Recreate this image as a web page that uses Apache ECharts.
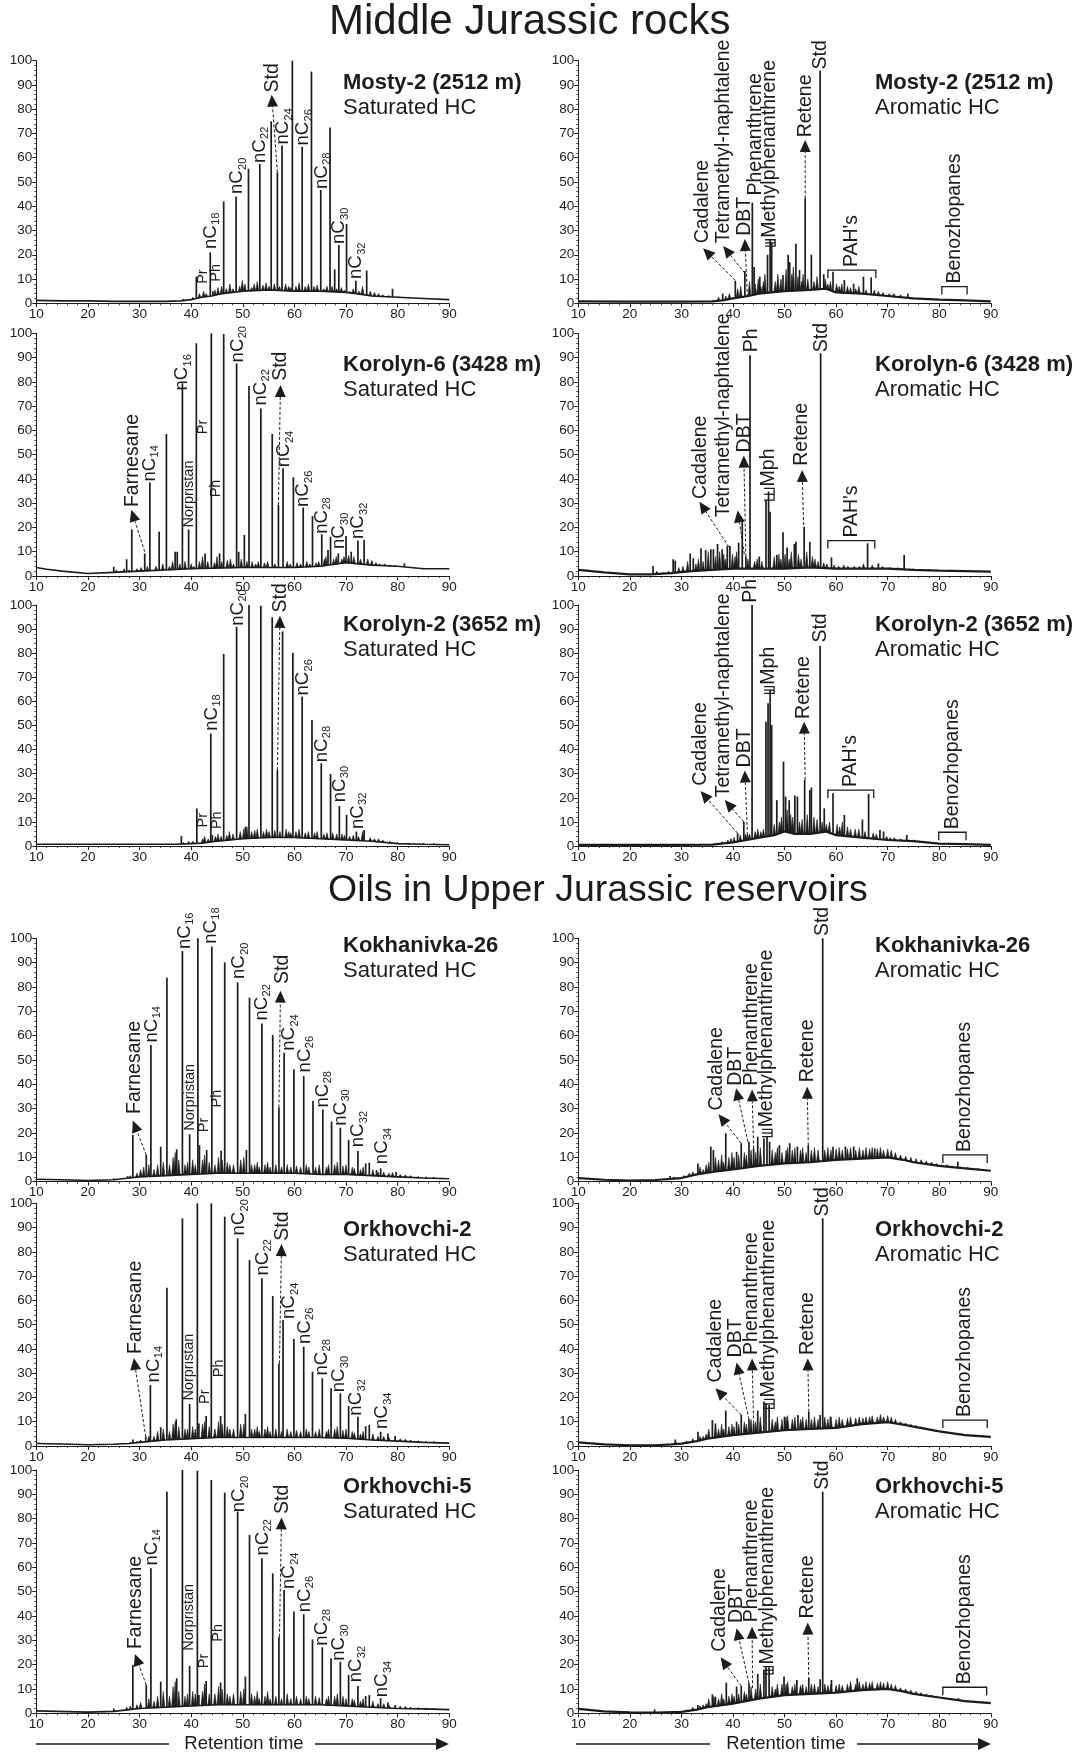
<!DOCTYPE html>
<html><head><meta charset="utf-8">
<script src="https://cdn.jsdelivr.net/npm/echarts@6/dist/echarts.min.js"></script>
<style>html,body{margin:0;padding:0;background:#fff}#c{width:1084px;height:1753px}</style>
</head><body><div id="c"></div>
<script>
// ---------------- DATA (retention time [min], relative abundance [%]) ----------------
const xTicks = [10, 20, 30, 40, 50, 60, 70, 80, 90];
const yTicks = [0, 10, 20, 30, 40, 50, 60, 70, 80, 90, 100];

// Mosty-2 (2512 m) saturated
const m2sBase = [[10,1.2],[15,1],[20,1],[25,0.8],[30,0.8],[35,0.8],[38,1],[40,1.5],[42,2.5],[44,3],[46,4],[50,5],[55,5.5],[60,5],[65,5],[70,4.5],[72,4],[75,3],[80,2.5],[85,2],[90,1.5]];
const m2sPeaks = [[38.5,1.8],[41.0,11],[43.7,21],[44.2,5],[46.3,42],[48.7,44],[51.1,55.5],[53.3,57.4],[55.5,75],[56.7,54],[57.6,65],[59.6,100],[61.5,64.5],[63.3,95.5],[65.1,46.7],[66.9,72.5],[67.8,14],[68.6,24],[70.1,32.7],[71.9,9.3],[74.0,13.5],[79.0,6]];
const m2sGrass = [[40.3,2.5],[41.6,4],[42.4,5],[42.9,4],[44.6,5.5],[45.2,6.5],[45.9,7],[46.8,6],[47.5,8],[48.1,6],[49.4,7],[49.9,9.5],[50.4,8],[51.7,6.5],[52.2,8],[52.8,9],[53.9,7.5],[54.5,8.5],[55.1,7],[56.1,8],[57.1,7],[58.3,8],[58.9,7],[59.3,6.5],[60.3,7],[60.9,8.5],[62.1,7],[62.7,8],[63.8,7],[64.4,7.5],[65.7,6],[66.3,7],[67.3,7],[68.2,6],[69.1,6.5],[69.7,5.5],[70.7,5],[71.4,6],[72.5,5],[73.2,7],[74.7,5],[75.5,4.5],[76.3,4],[77.1,3.5],[78.3,3.2],[80.2,2.5]];
const m2sNotes = [['S','Pr',42.2,7.6],['S','Ph',44.9,8.5],['L','nC_18',43.8,22],['L','nC_20',48.9,44.6],['L','nC_22',53.3,57.4],['A','Std',56.7,54,55.6,86,55.7,86.5],['L','nC_24',57.8,65],['L','nC_26',61.7,64.6],['L','nC_28',65.3,46.7],['L','nC_30',68.7,24],['L','nC_32',72,9.6]];

// Mosty-2 (2512 m) aromatic
const m2aBase = [[10,0.8],[20,0.7],[30,0.7],[36,0.8],[38,1.2],[40,2],[43,3],[45,4],[50,5],[55,5.5],[58,6],[60,4.5],[65,4],[70,3],[75,2],[80,1.5],[85,1.2],[90,0.8]];
const m2aPeaks = [[38,4],[40.45,9.3],[42.3,13.3],[43.75,41.5],[44.1,15],[45.2,11],[46.7,20],[47.2,26],[47.5,25],[49.7,11.7],[50.7,20],[51,17],[52.2,24.5],[52.9,13.7],[54.0,43.3],[55.2,20],[56.9,96],[57.6,12],[59.4,13],[61.6,9.6],[63.4,8],[65.3,11],[66.8,10.7],[73.9,4]];
const m2aGrass = [[37.2,2.5],[38.6,3],[39.3,4],[40.9,6],[41.5,7],[43.2,9],[44.3,8],[44.9,10],[45.4,7],[45.9,9],[46.2,12],[48.2,9],[48.7,12],[49.3,10],[50.3,14],[51.4,12],[51.7,15],[52.6,11],[53.3,9],[53.6,12],[54.5,10],[55.7,9],[56.3,11],[57.9,10],[58.4,8],[58.9,9],[60.1,8],[60.6,7],[61.1,8],[62.2,7],[62.8,6.5],[63.8,6],[64.4,7],[65.8,5.5],[67.4,5.5],[68.2,5],[69.1,4.5],[70.3,4],[71.2,4],[72.5,3.5]];
const m2aNotes = [['A','Cadalene',40.4,9.5,34.2,22.7,34.2,24.3],['A','Tetramethyl-naphtalene',42.3,12.4,38.1,23.6,38.2,24.3],['A','DBT',42.8,2.7,42.3,26.5,42.3,27.4],['L','Phenanthrene',44.3,44],['E','Methylphenanthrene',47.2,23.6,26.2],['A','Retene',54,43.3,54,67.3,54,68],['L','Std',56.9,96],['B',"PAH's",58.4,67.7,13.7],['B','Benozhopanes',80.5,85.4,6.9]];

// Korolyn-6 (3428 m) saturated
const k6sBase = [[10,3.5],[12,2.8],[15,2],[20,1],[25,1.5],[30,2],[35,2.5],[40,3],[50,3.5],[60,3.5],[65,4],[70,5.5],[75,4.5],[80,4],[85,3],[90,3]];
const k6sPeaks = [[25,3.8],[27.5,6.9],[28.5,19.2],[31,9.3],[32,38.5],[33.8,18.3],[35.2,58.5],[36.9,10],[37.3,10],[38.3,79.4],[39.5,19.2],[41.0,95.9],[42.7,9.3],[43.9,100],[45.5,9.3],[46.3,99.7],[48.8,87.6],[49.2,10],[50.3,16.9],[51.2,78.3],[53.5,69],[55.7,58.5],[56.9,29.3],[57.8,44.4],[59.8,40.7],[61.7,28.2],[63.5,24.7],[65.3,17.2],[66.5,10.7],[67,16.2],[68.5,9.3],[70,16.5],[71,10],[72.3,14.6],[73.5,14.8],[81.3,5.2]];
const k6sGrass = [[25.5,2.5],[26.3,2],[27,3],[28,2.5],[29.5,3],[30.3,3.5],[31.5,4],[33.2,4],[34.5,5],[35.8,4],[36.4,6],[37.8,5],[38.8,6],[40,5],[40.5,4],[41.6,6],[42.2,8],[43.2,6],[44.5,5.5],[45,8],[45.9,6],[47,6.5],[47.6,7],[48.2,5],[49.7,7],[50.8,6],[51.8,6],[52.5,5],[53,6],[54.2,5.5],[54.8,6],[56.2,5],[58.6,6],[59.2,5],[60.5,5.5],[61.2,5],[62.4,6],[63,5],[64.2,5.5],[64.7,6],[65.8,7],[66.1,8],[67.6,7],[68.1,8],[69.2,7],[69.6,8],[70.5,8.5],[71.5,8],[72.8,7],[74.2,7],[75,6.5],[75.8,5.5],[76.5,5],[77.5,5],[78.5,4.5],[79.5,4],[83,3.5],[85,3.2]];
const k6sNotes = [['A','Farnesane',31,10,28.4,27.3,28.7,28],['L','nC_14',32,38.5],['L','nC_16',38.3,76],['S','Norpristan',39.5,19.6],['S','Pr',42.3,58],['S','Ph',44.9,32],['L','nC_20',49,87.6],['L','nC_22',53.5,69.8],['A','Std',56.9,29.3,57.3,78.7,57.3,80],['L','nC_24',58,44.4],['L','nC_26',61.7,28],['L','nC_28',65.3,17],['L','nC_30',68.7,10.7],['L','nC_32',72.3,14.8]];

// Korolyn-6 (3428 m) aromatic
const k6aBase = [[10,2.5],[15,1.5],[20,0.7],[24,0.7],[28,1.2],[32,2],[36,2.5],[40,3],[45,3],[50,3],[55,3.5],[60,3],[65,3],[70,3],[75,2.5],[80,2.2],[85,2],[90,1.8]];
const k6aPeaks = [[24.5,4.1],[28.4,6.9],[28.8,6.3],[31.7,9.3],[32.3,7.3],[33.8,11.4],[34.7,10.7],[35.7,11],[36.2,11],[37,13.2],[37.9,11],[38.9,12.4],[39.4,12.4],[41.1,13.7],[41.8,23],[42.5,8],[43.3,91],[45.1,8],[46.4,31.3],[46.9,34.8],[47.2,26.5],[48.5,8.7],[49.7,18],[50.5,11.7],[51.9,13.2],[52.2,14.1],[53.8,20.3],[54.9,14.1],[57,91.8],[59.1,7.7],[66.1,13.5],[68.2,5.2],[73.2,8.7]];
const k6aGrass = [[25.2,2],[26.5,1.5],[27.5,2],[29.5,3.5],[30.3,4],[31.2,6],[32.8,5],[33.3,7],[34.2,6],[35.2,10],[36.6,8],[37.4,10],[38.2,9],[38.6,7],[39.9,9],[40.4,8],[40.7,10],[42.9,7],[44.2,6],[44.7,7],[45.6,6],[48,8],[48.9,9],[49.3,7],[50.1,9],[50.9,7],[51.3,10],[52.7,9],[53.2,7],[54.3,10],[55.4,8],[55.9,7],[56.5,6],[57.6,5.5],[58.2,5],[59.6,4.5],[60.5,4],[61.5,4.5],[62.3,4],[63.5,4],[64.5,4],[65.3,5],[67,4.5],[69,4],[70.5,3.5],[72,3.5],[75,3],[78,2.8],[82,2.5]];
const k6aNotes = [['A','Cadalene',39.2,12,33.5,30.6,33.7,31.3],['A','Tetramethyl-naphtalene',42.2,9,40.9,27,38.2,23.8],['A','DBT',42.5,8,42.1,49.6,42.3,50.5],['L','Ph',43.6,91.8],['E','Mph',47,31.3,36.1],['A','Retene',53.7,21,53.4,43.7,53.4,45],['L','Std',57.1,91.8],['B',"PAH's",58.4,67.5,14.6]];

// Korolyn-2 (3652 m) saturated
const k2sBase = [[10,0.7],[20,0.7],[30,0.7],[37,0.7],[40,1],[42,1.2],[45,2],[50,3],[55,3.5],[60,3.5],[65,3],[70,2.5],[75,2],[80,1],[85,0.7],[90,0.5]];
const k2sPeaks = [[38.1,4.1],[41.1,15.6],[43.8,46.7],[44.1,4.5],[46.3,79.7],[48.8,91],[50.5,8],[51.2,100],[53.5,99.7],[55.7,94.9],[56.7,31.5],[57.7,89],[59.7,80.2],[61.5,62],[63.4,52.3],[65.2,34.3],[67,29.9],[68.7,16.6],[70.1,12.9],[72,6],[73.5,6.6]];
const k2sGrass = [[38.5,1.5],[39.5,2],[40.3,2],[42.2,3],[42.6,4],[43.3,3],[44.7,4],[45.2,5],[45.8,4],[46.9,4.5],[47.4,6],[48.1,5],[49.5,6],[50.2,7],[50.8,8],[51.7,6],[52.3,6.5],[52.8,7],[54,6],[54.6,7],[55.1,6],[56.2,6.5],[57.2,6],[58.4,7],[58.9,6],[59.3,5.5],[60.3,6],[60.9,7],[62.1,5.5],[62.7,6],[63.9,5.5],[64.4,6],[65.7,5],[66.3,5.5],[67.4,5.5],[68.2,5],[69.2,5],[69.7,4.5],[70.7,4],[71.4,4.5],[72.4,4],[73.2,6],[74.7,3.5],[75.5,3],[76.3,3],[77.1,2.5],[78.5,2],[80,1.5],[82,1.2],[85,1],[87,1]];
const k2sNotes = [['S','Pr',42.3,7.3],['S','Ph',45,6.6],['L','nC_18',44,47.4],['L','nC_20',49,91],['A','Std',56.7,31.5,57.2,95.5,57.3,96.5],['L','nC_26',61.7,62],['L','nC_28',65.3,34.3],['L','nC_30',68.8,17.7],['L','nC_32',72.2,6.6]];

// Korolyn-2 (3652 m) aromatic
const k2aBase = [[10,0.5],[20,0.5],[30,0.5],[36,0.6],[40,1.5],[44,3],[48,4.5],[50,6],[52,5],[55,5],[58,6],[60,4.5],[65,3.5],[70,2.5],[75,2],[80,1],[85,0.8],[90,0.5]];
const k2aPeaks = [[37.9,1.8],[39.6,3],[40.9,5.3],[42.1,10],[42.8,4.6],[43.7,100],[46.4,51.6],[46.8,59.2],[47.2,64.7],[47.5,50.2],[48.5,19],[49.8,35],[50.2,20.5],[50.9,19],[52,21],[52.5,20.5],[53.9,27.4],[54.9,23.2],[55.2,24.3],[56.9,83],[57.7,15.6],[59.4,21.9],[61.6,12.9],[65.1,11],[66.3,21.6],[68.5,6.6],[69.2,6],[73.7,4.6]];
const k2aGrass = [[39,2.5],[40.2,3.5],[41.4,4.5],[42.4,5],[43.2,5],[44.3,6],[44.8,7],[45.4,6],[45.9,7],[48,9],[49,10],[49.4,12],[50.5,15],[51.2,13],[51.6,12],[52.9,10],[53.4,11],[54.4,13],[55.7,12],[56.3,11],[57.3,10],[58.1,9],[58.7,10],[60.2,9],[60.7,8],[61.2,10],[62.2,8],[62.8,7],[63.7,7],[64.4,7],[65.6,6],[67.2,5.5],[67.8,5],[69.8,4],[70.5,3.5],[71.3,3.5],[72.5,3],[75,2.5],[77,2]];
const k2aNotes = [['A','Cadalene',40.9,5.3,33.7,22.8,33.7,24.6],['A','Tetramethyl-naphtalene',42.1,10,38.4,19.1,38.1,19.8],['A','DBT',42.8,4.6,42.3,31.3,42.3,32.2],['L','Ph',43.5,100.5],['E','Mph',47,63.3,66.1],['A','Retene',54,27.4,53.8,51.6,53.7,52.3],['L','Std',57,84],['B',"PAH's",58.4,67.3,23.2],['B','Benozhopanes',79.9,85.2,5.7]];

// Kokhanivka-26 saturated
const kh26sBase = [[10,1],[15,0.8],[20,0.5],[25,0.8],[28,1.5],[30,2],[35,2.5],[40,3],[45,3.5],[55,3.5],[60,3.5],[65,3],[70,3],[75,2.5],[80,2],[85,1.5],[90,1.2]];
const kh26sPeaks = [[25,1.4],[27.7,2.3],[28.7,19.2],[31.3,11],[32.2,56.2],[34.1,14.4],[35.3,83.8],[37.2,13.3],[38.3,94.8],[39.7,19.5],[41.3,100],[41.6,15],[43,13],[44,96.6],[45.8,12.7],[46.5,90.1],[49,81.9],[50.7,13],[51.3,75.6],[53.7,65],[55.8,60.3],[57,30.5],[58,53],[59.9,46.2],[61.8,43.4],[63.6,33.2],[65.5,29.7],[67.2,24.7],[68.9,22.2],[70.5,17.1],[72.3,12.6],[73.8,7.5],[74.5,7.8],[75.9,4.8],[76.7,5.5],[79.7,4]];
const kh26sGrass = [[28.2,2.5],[29.5,3.5],[30.2,5],[30.8,6],[31.8,7],[32.8,5],[33.5,7],[34.6,8],[35.8,7],[36.5,10],[36.9,12],[37.6,9],[38.8,7],[39.3,8],[40.3,9],[40.8,7],[42.2,9],[42.6,11],[43.5,8],[44.6,7],[45.3,10],[46,9],[47,8],[47.5,7],[48.2,7],[49.6,9],[50.2,10],[51.7,7],[52.3,7],[52.8,8],[53.2,6],[54.3,7],[54.8,8],[55.3,6],[56.4,7],[57.5,6],[58.6,7],[59.3,6],[60.4,6.5],[61.2,6],[62.3,7],[62.8,6],[64.1,6],[64.8,7],[66.2,6],[66.6,7],[67.8,7],[68.3,8],[69.4,6.5],[70,7],[71.2,6],[71.6,5.5],[72.8,5],[73.3,6],[75.2,5],[76.2,4],[77.3,4],[78.3,3.5],[79,3.8],[80.5,3],[81.5,2.8],[82.5,2.5],[84,2.2],[85.5,2],[87,1.8],[88.5,1.5]];
const kh26sNotes = [['A','Farnesane',31.3,11,28.7,25.1,29,27.4],['L','nC_14',32.3,56.8],['L','nC_16',38.7,95.2],['S','Norpristan',39.7,20.5],['S','Pr',42.5,19.9],['L','nC_18',43.8,97.3],['S','Ph',45,30.1],['L','nC_20',49.3,82.9],['L','nC_22',53.7,65.8],['A','Std',57,30.5,57.3,78.5,57.7,80.8],['L','nC_24',59,53.4],['L','nC_26',62,44.5],['L','nC_28',65.5,30.1],['L','nC_30',69,22.6],['L','nC_32',72.3,13.7],['L','nC_34',77,6.8]];

// Kokhanivka-26 aromatic
const kh26aBase = [[10,1.5],[15,0.8],[20,0.5],[25,0.7],[28,1.2],[30,1.5],[33,3],[36,4],[40,5],[45,6.5],[50,7.5],[55,8],[60,9],[65,9.5],[70,10],[73,9],[75,8],[80,6.5],[85,5.5],[90,4.5]];
const kh26aPeaks = [[27.8,2.3],[33.2,7.5],[35.7,14.4],[36.2,13],[38.6,19.9],[40.7,12.3],[41.6,15.8],[43.1,16.4],[44,13.7],[44.8,18.5],[46,17.8],[46.6,18.5],[47.1,16.4],[49,15],[51,15.8],[52.5,14.4],[54.6,15],[57.4,100],[59.4,14.4],[61.8,14.4],[63.4,14.4],[67.5,13.7],[83.6,8.2]];
const kh26aGrass = [[28.5,2],[30.5,2.5],[31.5,3.5],[32.2,4],[33.6,6],[34.2,5],[34.8,7],[35.3,8],[36.6,10],[37.2,9],[37.8,11],[38.2,8],[39.2,10],[39.8,12],[40.2,10],[41.1,11],[42.2,12],[42.6,11],[43.5,13],[44.4,12],[45.3,14],[47.6,13],[48.2,12],[48.6,14],[49.5,12],[50.3,13],[50.6,14],[51.5,13],[52,14],[53.1,13],[53.5,14],[54.2,12],[55.2,13],[55.8,14],[56.5,13],[57.8,13],[58.4,14],[59,13],[60,13.5],[60.6,14],[61.2,13],[62.2,13.5],[62.8,14],[63.8,13],[64.5,14],[65.2,13],[65.8,14],[66.5,13.5],[67,14],[68,13.5],[68.6,14],[69.2,13],[70,13.5],[70.7,13],[71.5,12],[72.5,11],[73.5,10.5],[74.5,10],[75.5,9.5],[76.5,9],[77.5,8.5],[78.5,8],[79.5,7.5],[80.5,7],[81.5,7],[82.5,6.5],[84.2,6],[85.5,6],[86.5,5.5],[87.5,5.5],[88.5,5]];
const kh26aNotes = [['A','Cadalene',41.6,15.8,37.2,27.7,36.9,28.8],['A','DBT',42.9,16.4,40.6,38.4,40.6,39],['A','Phenanthrene',44,13.7,43.7,37.9,43.6,39],['E','Methylphenanthrene',46.6,18.5,21.5],['A','Retene',54.6,15,54.4,39,54.4,40.4],['L','Std',57.4,100.5],['B','Benozhopanes',80.7,89.3,11]];

// Orkhovchi-2 saturated
const o2sBase = [[10,1],[15,0.8],[20,0.5],[25,0.7],[28,1],[30,1.5],[35,2.5],[40,3],[45,3.5],[55,3.5],[65,3.5],[70,3.2],[75,2.5],[80,2],[85,1.5],[90,1.2]];
const o2sPeaks = [[28.7,2.7],[31.2,3.8],[32.1,25.1],[34.1,7.7],[35.3,65.2],[37.1,11],[38.3,93.8],[39.7,17.3],[41.2,100],[41.5,9.3],[42.9,12.4],[43.9,100],[45.7,12.4],[46.5,94.5],[49,85.6],[50.5,13.2],[51.3,76.6],[53.7,69.1],[55.8,61.8],[57,34],[57.8,51.9],[59.9,44.1],[61.8,40.9],[63.5,30.6],[65.4,27.9],[67.1,23.8],[68.9,21.7],[70.5,16.5],[72.3,12.1],[73.8,8.2],[74.5,8.7],[76.7,5.9],[78.1,5.2],[79.5,4.1]];
const o2sGrass = [[28.2,1.5],[29.5,2],[30.2,2.5],[31.8,4],[32.8,4],[33.5,6],[34.6,7],[35.8,6],[36.5,9],[36.9,10],[37.6,8],[38.8,7],[39.3,7],[40.3,8],[40.8,7],[42.2,9],[42.6,10],[43.5,8],[44.6,7],[45.3,10],[46,9],[47,8],[47.5,7],[48.2,7],[49.6,9],[50.2,9],[51.7,7],[52.3,7],[52.8,8],[53.2,6],[54.3,7],[54.8,8],[55.3,6],[56.4,7],[57.5,6],[58.6,7],[59.3,6],[60.4,6.5],[61.2,6],[62.3,7],[62.8,6],[64.1,6],[64.8,7],[66.2,6],[66.6,7],[67.8,7],[68.3,8],[69.4,6.5],[70,7],[71.2,6],[71.6,5.5],[72.8,5],[73.3,6],[75.2,5],[76.2,4],[77.3,4],[78.3,3.5],[80.5,3],[81.5,2.8],[82.5,2.5],[84,2.2],[85.5,2],[87,1.8]];
const o2sNotes = [['A','Farnesane',31.2,3.8,28.9,36.3,29.3,37.5],['L','nC_14',32.7,25.8],['S','Norpristan',39.5,18.3],['S','Pr',42.7,16.9],['S','Ph',45.3,27.9],['L','nC_20',49.3,86.3],['L','nC_22',53.8,69.8],['A','Std',57.1,34,57.5,83.2,57.7,84.2],['L','nC_24',59,51.9],['L','nC_26',62,41.6],['L','nC_28',65.3,28.6],['L','nC_30',68.7,21.7],['L','nC_32',72,12.1],['L','nC_34',77,6.6]];

// Orkhovchi-2 aromatic
const o2aBase = [[10,1.5],[15,0.7],[20,0.3],[25,0.3],[28,0.7],[30,1],[33,2],[35,3],[40,4.5],[45,5.5],[50,6.5],[55,7],[60,7.5],[65,9],[70,9.8],[73,8.8],[75,8],[80,6],[85,4.5],[90,3.8]];
const o2aPeaks = [[28.8,2.7],[33.2,5.9],[36,10.7],[36.6,9.3],[38.6,14.6],[40.7,10],[41.6,12.8],[43.1,11],[44,9.3],[44.8,14.6],[46,18.3],[46.4,17.6],[47,16.9],[50,12.1],[52.6,12.8],[54.7,14.1],[56.9,12.8],[57.4,93.8],[58.9,12.1],[69.2,11.4]];
const o2aGrass = [[29,1.5],[31,2],[32.2,3],[33.6,4],[34.2,4],[34.8,5],[35.3,7],[36.6,8],[37.2,7],[37.8,9],[38.2,7],[39.2,8],[39.8,9],[40.2,8],[41.1,9],[42.2,10],[42.6,9],[43.5,11],[44.4,10],[45.3,12],[47.6,11],[48.2,10],[48.6,12],[49.5,11],[50.3,12],[50.6,12.5],[51.5,11],[52,12],[53.1,11],[53.5,12],[54.2,11],[55.2,11],[55.8,12],[56.5,11],[57.8,12],[58.4,11],[59,12],[60,11],[60.6,12],[61.2,11],[62.2,11.5],[62.8,12],[63.8,11.5],[64.5,12],[65.2,11.5],[65.8,12],[66.5,12],[67,12.5],[68,12],[68.6,13],[69.2,12],[70,12.5],[70.7,12],[71.5,11],[72.5,10],[73.5,9.5],[74.5,9],[75.5,8.5],[76.5,8],[77.5,7.5],[78.5,7],[79.5,6.5],[80.5,6],[81.5,5.5],[82.5,5.3],[84.2,5],[85.5,4.8],[86.5,4.5],[87.5,4.3],[88.5,4.2]];
const o2aNotes = [['A','Cadalene',41.6,12.8,36.6,23.8,36.6,25.8],['A','DBT',43.1,11,40.7,34.4,40.6,36.1],['A','Phenanthrene',44,9.3,43.7,36.1,43.7,37.1],['E','Methylphenanthrene',47,15.5,19.2],['A','Retene',54.7,14.1,54.5,36.1,54.4,37.1],['L','Std',57.4,94.2],['B','Benozhopanes',80.7,89.3,10.7]];

// Orkhovchi-5 saturated
const o5sBase = [[10,1],[20,0.5],[25,0.8],[28,1.5],[30,2],[35,2.5],[40,3],[45,3.5],[55,3.5],[65,3.5],[70,3],[75,2.5],[80,2],[85,1.8],[90,1.5]];
const o5sPeaks = [[25,2],[28.7,19.9],[31.3,11.6],[32.2,59.6],[34.1,13],[35.3,91.1],[37.2,14.4],[38.3,100],[39.7,19.5],[41.2,99.7],[41.5,7.5],[42.9,13.3],[43.9,95.9],[45.7,12.7],[46.5,90.7],[49,82.9],[50.5,15.1],[51.3,73.3],[53.7,63.7],[55.8,57.5],[57,31.5],[58,50.7],[59.9,41.8],[61.8,40.7],[63.5,30.4],[65.4,27.1],[67.1,22.6],[68.9,21.2],[70.5,15.8],[72.3,11.2],[73.8,7.1],[74.5,7.5],[76.7,6.2],[78.1,4.4],[79.5,3.4]];
const o5sGrass = [[27.5,2.5],[28.2,3],[29.5,3.5],[30.2,4.5],[31.8,6],[32.8,5],[33.5,7],[34.6,9],[35.8,7],[36.5,11],[36.9,13],[37.6,9],[38.8,7],[39.3,8],[40.3,9],[40.8,8],[42.2,9],[42.6,12],[43.5,8],[44.6,8],[45.3,11],[46,10],[47,8],[47.5,7],[48.2,8],[49.6,9],[50.2,10],[51.7,8],[52.3,7],[52.8,9],[53.2,6],[54.3,7],[54.8,9],[55.3,6],[56.4,7],[57.5,6],[58.6,8],[59.3,6],[60.4,7],[61.2,6],[62.3,7],[62.8,6],[64.1,7],[64.8,6.5],[66.2,6],[66.6,7],[67.8,7],[68.3,8],[69.4,7],[70,6],[71.2,6],[71.6,5.5],[72.8,5],[73.3,6],[75.2,5],[76.2,4],[77.3,4],[78.3,3.5],[80.5,3],[81.5,2.8],[82.5,2.6],[84,2.4],[85.5,2.2],[87,2]];
const o5sNotes = [['A','Farnesane',31.3,11.6,29.1,24.4,29.3,26],['L','nC_14',32.3,60.3],['S','Norpristan',39.5,25.3],['S','Pr',42.5,18.1],['S','Ph',45.1,29],['L','nC_20',49.3,82.2],['L','nC_22',53.8,64.4],['A','Std',57.1,31.5,57.5,80.5,57.7,81.5],['L','nC_24',59,50.7],['L','nC_26',62,41.1],['L','nC_28',65.3,27.4],['L','nC_30',68.7,21.2],['L','nC_32',72,12.3],['L','nC_34',77,6.2]];

// Orkhovchi-5 aromatic
const o5aBase = [[10,1.8],[15,0.8],[20,0.4],[25,0.3],[30,0.6],[33,1.5],[35,2.5],[40,4],[45,6],[50,7.5],[55,8],[60,8.5],[65,9.5],[70,10],[73,9],[75,8],[80,6.5],[85,5],[90,4.2]];
const o5aPeaks = [[24.8,1.6],[33.2,3.4],[36,7.8],[36.6,6.8],[38.7,12.6],[40.7,11],[41.6,11.2],[43.1,12.3],[44.8,16.2],[46,17.8],[46.4,19.2],[47,18.9],[49.9,15.1],[52.4,13.7],[54.7,14.4],[56.9,14],[57.4,91.1],[59.1,13.7],[64.1,14.4],[83.7,6.2]];
const o5aGrass = [[31,1.5],[32.2,2.5],[33.6,3],[34.2,3.5],[34.8,4],[35.3,6],[36.3,7],[37.2,6],[37.8,8],[38.2,6],[39.2,7],[39.8,8],[40.2,7],[41.1,8],[42.2,9],[42.6,8],[43.5,11],[44.4,10],[45.3,12],[47.6,11],[48.2,10],[48.6,12],[49.5,12],[50.3,12],[50.6,13],[51.5,11],[52,12],[53.1,11.5],[53.5,12],[54.2,11],[55.2,12],[55.8,12],[56.5,11],[57.8,12],[58.4,11.5],[59,12],[60,11.5],[60.6,12],[61.2,11.5],[62.2,12],[62.8,13],[63.8,12],[64.5,13],[65.2,12],[65.8,13],[66.5,12.5],[67,13],[68,12.5],[68.6,13],[69.2,12.5],[70,13],[70.7,12],[71.5,11.5],[72.5,10.5],[73.5,10],[74.5,9.5],[75.5,9],[76.5,8.5],[77.5,8],[78.5,7.5],[79.5,7],[80.5,6.5],[81.5,6],[82.5,5.8],[84.2,5.5],[85.5,5.2],[86.5,5],[87.5,4.8],[88.5,4.6]];
const o5aNotes = [['A','Cadalene',41.6,11.2,37.6,23,37.4,24.9],['A','DBT',43.1,12.3,40.7,35,40.8,36.7],['A','Phenanthrene',43.8,10.3,43.7,35.6,43.7,37],['E','Methylphenanthrene',46.8,16.2,19.2],['A','Retene',54.7,13.7,54.5,37.3,54.4,38.6],['L','Std',57.4,91.5],['B','Benozhopanes',80.7,89.2,10.7]];

// ---------------- LAYOUT / STYLE ----------------
const INK = '#1d1b1c';
const FONT = '"Liberation Sans", Arial, Helvetica, sans-serif';
const rowTop = [60.7, 333.3, 605, 938.3, 1203.3, 1470];
const rowH = [242.6, 242.7, 241, 243.4, 242.7, 243.3];
const colLeft = [36.3, 578.3];
const colW = [413, 412.5];
const nameY = [83.3, 365, 625, 946, 1230, 1487];
const nameX = [343, 875];

const panels = [
  {r:0,c:0,base:m2sBase,peaks:m2sPeaks,grass:m2sGrass,notes:m2sNotes,name:'Mosty-2 (2512 m)',kind:'Saturated HC'},
  {r:0,c:1,base:m2aBase,peaks:m2aPeaks,grass:m2aGrass,notes:m2aNotes,name:'Mosty-2 (2512 m)',kind:'Aromatic HC',arom:true},
  {r:1,c:0,base:k6sBase,peaks:k6sPeaks,grass:k6sGrass,notes:k6sNotes,name:'Korolyn-6 (3428 m)',kind:'Saturated HC'},
  {r:1,c:1,base:k6aBase,peaks:k6aPeaks,grass:k6aGrass,notes:k6aNotes,name:'Korolyn-6 (3428 m)',kind:'Aromatic HC',arom:true},
  {r:2,c:0,base:k2sBase,peaks:k2sPeaks,grass:k2sGrass,notes:k2sNotes,name:'Korolyn-2 (3652 m)',kind:'Saturated HC'},
  {r:2,c:1,base:k2aBase,peaks:k2aPeaks,grass:k2aGrass,notes:k2aNotes,name:'Korolyn-2 (3652 m)',kind:'Aromatic HC',arom:true},
  {r:3,c:0,base:kh26sBase,peaks:kh26sPeaks,grass:kh26sGrass,notes:kh26sNotes,name:'Kokhanivka-26',kind:'Saturated HC'},
  {r:3,c:1,base:kh26aBase,peaks:kh26aPeaks,grass:kh26aGrass,notes:kh26aNotes,name:'Kokhanivka-26',kind:'Aromatic HC',arom:true},
  {r:4,c:0,base:o2sBase,peaks:o2sPeaks,grass:o2sGrass,notes:o2sNotes,name:'Orkhovchi-2',kind:'Saturated HC'},
  {r:4,c:1,base:o2aBase,peaks:o2aPeaks,grass:o2aGrass,notes:o2aNotes,name:'Orkhovchi-2',kind:'Aromatic HC',arom:true},
  {r:5,c:0,base:o5sBase,peaks:o5sPeaks,grass:o5sGrass,notes:o5sNotes,name:'Orkhovchi-5',kind:'Saturated HC'},
  {r:5,c:1,base:o5aBase,peaks:o5aPeaks,grass:o5aGrass,notes:o5aNotes,name:'Orkhovchi-5',kind:'Aromatic HC',arom:true}
];

const mctx = document.createElement('canvas').getContext('2d');
function tw(t, size) { mctx.font = size + 'px ' + FONT; return mctx.measureText(t).width; }

function baseAt(arr, x) {
  for (let i = 1; i < arr.length; i++) {
    if (x <= arr[i][0]) {
      const a = arr[i-1], b = arr[i];
      return a[1] + (b[1] - a[1]) * (x - a[0]) / (b[0] - a[0]);
    }
  }
  return arr[arr.length-1][1];
}

function txt(text, x, y, size, extra) {
  return {type:'text', x:x, y:y, style:Object.assign({text:text, font:size + 'px ' + FONT, fill:INK,
    textAlign:'left', textVerticalAlign:'middle', align:'left', verticalAlign:'middle'}, extra || {})};
}
// vertical text (reads bottom-to-top) starting at pixel (x,y)
function vtext(x, y, text, size, out) {
  const parts = text.split('_');
  const g = {type:'group', x:x, y:y, rotation:Math.PI/2, children:[txt(parts[0], 0, 0, size)]};
  if (parts[1]) {
    const w = tw(parts[0], size);
    g.children.push(txt(parts[1], w + 0.5, size * 0.3, Math.round(size * 0.62)));
  }
  out.push(g);
}

const LNC = 18.5, LWORD = 19.5, LSMALL = 14.5;
function lsize(t) { return t.indexOf('_') >= 0 ? LNC : LWORD; }
function notesRender(notes) {
  return function (params, api) {
    const ch = [];
    notes.forEach(function (n) {
      const t = n[0];
      if (t === 'L' || t === 'S') {
        const p = api.coord([n[2], n[3]]);
        vtext(p[0], p[1] - 1, n[1], t === 'L' ? lsize(n[1]) : LSMALL, ch);
      } else if (t === 'A') {
        const F = api.coord([n[2], n[3]]), T = api.coord([n[4], n[5]]);
        let dx = T[0] - F[0], dy = T[1] - F[1];
        const len = Math.hypot(dx, dy) || 1; dx /= len; dy /= len;
        const L = 12, hw = 5.5;
        const B = [T[0] - dx * L, T[1] - dy * L];
        ch.push({type:'line', shape:{x1:F[0], y1:F[1], x2:B[0], y2:B[1]}, style:{stroke:INK, lineWidth:1, lineDash:[3,2]}});
        ch.push({type:'polygon', shape:{points:[T, [B[0] - dy * hw, B[1] + dx * hw], [B[0] + dy * hw, B[1] - dx * hw]]}, style:{fill:INK}});
        const X = api.coord([n[6], n[7]]);
        vtext(X[0], X[1] - 1, n[1], LWORD, ch);
      } else if (t === 'B') {
        const A = api.coord([n[2], n[4]]), Bp = api.coord([n[3], n[4]]);
        ch.push({type:'polyline', shape:{points:[[A[0], A[1] + 8], [A[0], A[1]], [Bp[0], Bp[1]], [Bp[0], Bp[1] + 8]]}, style:{stroke:INK, lineWidth:1.3, fill:null}});
        vtext((A[0] + Bp[0]) / 2, A[1] - 3, n[1], LWORD, ch);
      } else if (t === 'E') {
        const P1 = api.coord([n[2], n[3]]), P2 = api.coord([n[2], n[4]]);
        const xs = P1[0] + 5, xl = P1[0] - 5, ym = (P1[1] + P2[1]) / 2;
        ch.push({type:'polyline', shape:{points:[[xl, P1[1]], [xs, P1[1]], [xs, P2[1]], [xl, P2[1]]]}, style:{stroke:INK, lineWidth:1.3, fill:null}});
        ch.push({type:'line', shape:{x1:xl, y1:ym, x2:xs, y2:ym}, style:{stroke:INK, lineWidth:1.3}});
        vtext(P1[0], P2[1] - 2, n[1], LWORD, ch);
      }
    });
    return {type:'group', children:ch};
  };
}

function peakRender(base, lw) {
  return function (params, api) {
    const x = api.value(0), h = api.value(1);
    const b = baseAt(base, x);
    const p0 = api.coord([x, b]), p1 = api.coord([x, h]);
    return {type:'line', shape:{x1:p0[0], y1:p0[1], x2:p1[0], y2:p1[1]}, style:{stroke:INK, lineWidth:lw}};
  };
}
function grassRender(base) {
  return function (params, api) {
    const x = api.value(0), h = api.value(1);
    const w = 0.28;
    const a = api.coord([x - w, baseAt(base, x - w)]);
    const t = api.coord([x, h]);
    const c = api.coord([x + w, baseAt(base, x + w)]);
    return {type:'polygon', shape:{points:[a, t, c]}, style:{fill:INK, stroke:INK, lineWidth:0.6}};
  };
}

const grids = [], xAxes = [], yAxes = [], series = [];
const axisCommon = {
  axisLine:{lineStyle:{color:INK, width:1}},
  axisTick:{length:4, lineStyle:{color:INK, width:1}},
  minorTick:{show:true, splitNumber:5, length:2, lineStyle:{color:INK, width:0.8}},
  splitLine:{show:false},
  axisLabel:{color:INK, fontSize:13.5, fontFamily:FONT, margin:4}
};
panels.forEach(function (p, i) {
  grids.push({left:colLeft[p.c], top:rowTop[p.r], width:colW[p.c], height:rowH[p.r]});
  xAxes.push(Object.assign({type:'value', gridIndex:i, min:xTicks[0], max:xTicks[xTicks.length-1], interval:xTicks[1]-xTicks[0]}, axisCommon));
  yAxes.push(Object.assign({type:'value', gridIndex:i, min:yTicks[0], max:yTicks[yTicks.length-1], interval:yTicks[1]-yTicks[0]}, axisCommon));
  series.push({type:'line', xAxisIndex:i, yAxisIndex:i, data:p.base, symbol:'none', lineStyle:{color:INK, width:p.arom ? 2.2 : 1.6}, z:2});
  series.push({type:'custom', xAxisIndex:i, yAxisIndex:i, data:p.grass, encode:{x:0, y:1}, renderItem:grassRender(p.base), z:3});
  series.push({type:'custom', xAxisIndex:i, yAxisIndex:i, data:p.peaks, encode:{x:0, y:1}, renderItem:peakRender(p.base, 1.7), z:4});
  series.push({type:'custom', xAxisIndex:i, yAxisIndex:i, data:[[50, 50]], encode:{x:0, y:1}, clip:false, renderItem:notesRender(p.notes), z:5});
});

const graphics = [];
function gtext(text, x, y, size, weight, align) {
  graphics.push({type:'text', x:x, y:y, z:10, style:{text:text, font:(weight || 'normal') + ' ' + size + 'px ' + FONT, fill:INK,
    textAlign:align || 'left', textVerticalAlign:'middle', align:align || 'left', verticalAlign:'middle'}});
}
gtext('Middle Jurassic rocks', 329, 22, 42, 'normal', 'left');
gtext('Oils in Upper Jurassic reservoirs', 328, 891, 37.5, 'normal', 'left');
panels.forEach(function (p) {
  gtext(p.name, nameX[p.c], nameY[p.r], 22, 'bold');
  gtext(p.kind, nameX[p.c], nameY[p.r] + 25, 22, 'normal');
});
// Retention time arrows
[[36, 169, 315, 449, 244], [576, 710, 857, 991, 786]].forEach(function (a) {
  const y = 1744;
  graphics.push({type:'line', shape:{x1:a[0], y1:y, x2:a[1], y2:y}, style:{stroke:INK, lineWidth:1.5}});
  graphics.push({type:'line', shape:{x1:a[2], y1:y, x2:a[3] - 10, y2:y}, style:{stroke:INK, lineWidth:1.5}});
  graphics.push({type:'polygon', shape:{points:[[a[3], y], [a[3] - 13, y - 6], [a[3] - 13, y + 6]]}, style:{fill:INK}});
  gtext('Retention time', a[4], y, 18.5, 'normal', 'center');
});

const chart = echarts.init(document.getElementById('c'), null, {renderer:'canvas'});
chart.setOption({
  animation:false,
  backgroundColor:'#ffffff',
  grid:grids, xAxis:xAxes, yAxis:yAxes, series:series, graphic:graphics
});
</script></body></html>
